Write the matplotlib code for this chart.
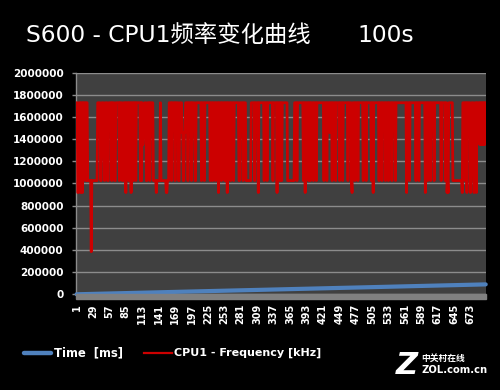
import matplotlib
matplotlib.use('Agg')
import matplotlib.pyplot as plt
from matplotlib.lines import Line2D
from matplotlib.patches import Rectangle

# ---- data ----
level_codes = {'T': 1728000, 'H': 1566000, 'G': 1458000, 'F': 1350000,
               'E': 1242000, 'D': 1134000, 'L': 1026000, 'M': 918000,
               'X': 384000}
freq_rows = [
    "TTMMTTTMTT" "MTLTTTLTTL" "LLLLLXLLLL" "LLLLLLTTTT" "TLLTTTTELT",
    "TTTLLTTTTT" "LTTTTLLTTT" "TTTLTTTTLL" "TTTTMTTTTL" "TTTMTTTLTT",
    "TLTTTTTTTL" "TLTFGGTTTL" "LTTTTLTTTT" "TLLLLLMLLL" "LLLTLLLLLL",
    "LLLMMLLLTT" "TTLTTTTTLT" "TTTTLLTTTT" "GGLLGGTTTT" "LTTTTTLTTT",
    "TTLLTTTTTT" "TTTLTTTTLT" "TTTTTTTTLT" "TTLTTTTLTT" "TTMTTTTLTT",
    "TTTLTTTMTT" "TTTLTTTTLT" "TTTTTTTLLT" "TTTTLTTTTL" "LLLLLLLLTT",
    "TTTTLTTTTT" "MTTTTTTTTT" "LTTTTLTTTT" "TTTTTLTTTT" "TTMTTTTLTT",
    "LTTTTTTTTT" "LLLLLLLLLL" "LLTTTTLTTT" "TTTTTTTLTT" "MTTTTTLTTL",
    "TTTTLTTTTL" "TTTTTTTTTT" "TTLTTTTLTT" "TTGTTTLTTT" "TTLTTTTTTL",
    "TTTTLTTTTT" "TTTLTTTTTL" "MTTTTLTTTT" "LTTTTTTTTL" "TTTTLTTTTT",
    "TTTLTTMTTT" "TTTTTTLTTT" "TLTTTTTLTT" "TTLTTTTTLT" "TTTTLTTTTT",
    "TTTTTTTTTT" "TTTMTTTTLT" "TTTTTTTTTL" "TTTTLTTTTT" "TTTTTMTTTL",
    "TTTTLTTTTT" "LTTTTTTTTT" "TTLTTTTTTL" "TTMLMTTTTT" "TTLLLLLLLL",
    "LLLLLLLLMT" "TTTLTTMTTT" "TTMLTTTTML" "TTMTTTTTFT" "FTFTFTFTT",
]
freq_khz = [level_codes[c] for c in "".join(freq_rows)]

time_cat = [1, 29, 57, 85, 113, 141, 169, 197, 225, 253, 281, 309, 337,
            365, 393, 421, 449, 477, 505, 533, 561, 589, 617, 645, 673, 699]
time_ms = [100, 3700, 7300, 10900, 14500, 18000, 21600, 25200, 28800,
           32400, 36000, 39500, 43100, 46700, 50300, 53900, 57500, 61000,
           64600, 68200, 71800, 75400, 79000, 82500, 86100, 89400]

x_tick_labels = ['1', '29', '57', '85', '113', '141', '169', '197', '225',
                 '253', '281', '309', '337', '365', '393', '421', '449',
                 '477', '505', '533', '561', '589', '617', '645', '673']
y_ticks = [0, 200000, 400000, 600000, 800000, 1000000, 1200000, 1400000,
           1600000, 1800000, 2000000]

title_main = "S600 - CPU1频率变化曲线"
title_dur = "100s"
series_names = ["Time  [ms]", "CPU1 - Frequency [kHz]"]

# ---- figure ----
W, H = 500, 390
fig = plt.figure(figsize=(5, 3.9), dpi=100, facecolor='black')
L, R, T, B = 76.3, 486.0, 72.6, 294.3
ax = fig.add_axes([L / W, 1 - B / H, (R - L) / W, (B - T) / H])
ax.set_facecolor('#404040')

N = len(freq_khz)
cats = list(range(1, N + 1))
blue = '#4f81bd'
red = '#cc0000'
ax.plot(time_cat, time_ms, color=blue, lw=3.0, solid_capstyle='round',
        zorder=3, clip_on=False)
ax.plot(cats, freq_khz, color=red, lw=2.0, zorder=4)

ax.set_xlim(0.5, N + 0.5)
ax.set_ylim(0, 2000000)
ax.set_yticks(y_ticks)
ax.set_yticklabels([str(v) for v in y_ticks])
xt = [int(s) for s in x_tick_labels]
ax.set_xticks(xt)
ax.set_xticklabels(x_tick_labels, rotation=90)

ax.set_axisbelow(True)
ax.yaxis.grid(True, color='#8c8c8c', lw=1.0)
ax.xaxis.grid(False)
for s in ['top', 'right', 'bottom']:
    ax.spines[s].set_visible(False)
ax.spines['left'].set_color('#8c8c8c')
ax.spines['left'].set_linewidth(1.0)

ax.tick_params(axis='y', length=3, width=1, color='#8c8c8c',
               labelcolor='white', pad=6.3)
ax.tick_params(axis='x', length=0, labelcolor='white', pad=7)
for t in ax.get_yticklabels():
    t.set_fontfamily('DejaVu Sans'); t.set_fontweight('bold'); t.set_fontsize(7.5)
for t in ax.get_xticklabels():
    t.set_fontfamily('DejaVu Sans'); t.set_fontweight('bold'); t.set_fontsize(7.0)

# floor band under plot area
fig.patches.append(Rectangle((L / W, 1 - 298.5 / H), (R - L) / W, 4.2 / H,
                             transform=fig.transFigure, color='#808080',
                             zorder=5))

# title
fig.text(26.5 / W, 1 - 41.7 / H, title_main, color='white', fontsize=16.8,
         family=['DejaVu Sans', 'Noto Sans CJK SC'], va='baseline', ha='left')
fig.text(357 / W, 1 - 41.7 / H, title_dur, color='white', fontsize=16.8,
         family=['DejaVu Sans', 'Noto Sans CJK SC'], va='baseline', ha='left')

# legend
ly = 1 - 352.5 / H
fig.add_artist(Line2D([24 / W, 51 / W], [ly, ly], color=blue, lw=3.2,
                      solid_capstyle='round', transform=fig.transFigure))
fig.text(53.5 / W, ly, series_names[0], color='white', fontsize=8.4,
         fontweight='bold', family='DejaVu Sans', va='center', ha='left')
fig.add_artist(Line2D([144 / W, 172 / W], [ly, ly], color=red, lw=1.6,
                      transform=fig.transFigure))
fig.text(173.5 / W, ly, series_names[1], color='white', fontsize=8.0,
         fontweight='bold', family='DejaVu Sans', va='center', ha='left')

# watermark
fig.text(407 / W, 1 - 366 / H, 'Z', color='white', fontsize=22,
         fontweight='bold', fontstyle='italic', family='DejaVu Sans',
         va='center', ha='center')
fig.text(421 / W, 1 - 358.5 / H, '中关村在线', color='white', fontsize=6.3,
         fontweight='bold', family=['Noto Sans CJK SC', 'DejaVu Sans'],
         va='center', ha='left')
fig.text(421 / W, 1 - 370 / H, 'ZOL.com.cn', color='white', fontsize=7.2,
         fontweight='bold', family='DejaVu Sans', va='center', ha='left')

fig.savefig('out.png', dpi=100, facecolor='black')
